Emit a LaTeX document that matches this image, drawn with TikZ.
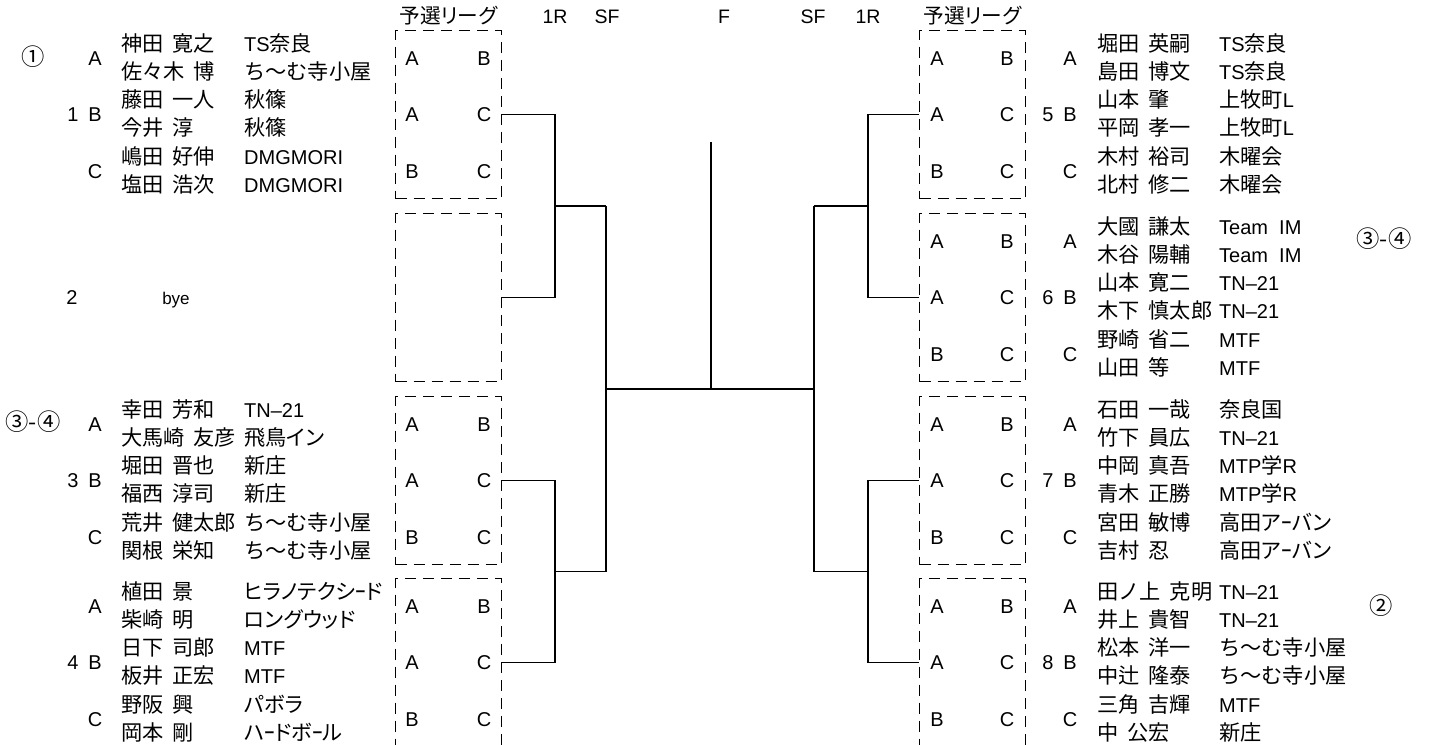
\documentclass[tikz,border=0pt]{standalone}
\usepackage{fontspec}
\setmainfont{Liberation Sans}
\newfontfamily\jp[Scale=1.06]{Noto Sans CJK JP}
\newfontfamily\jpp[Scale=1.06,RawFeature=+palt]{Noto Sans CJK JP}
\newcommand{\nm}[2]{{\jp #1}\hspace{0.45em}{\jp #2}}
\newcommand{\J}[1]{{\jp #1}}
\newcommand{\K}[1]{{\jpp #1}}
\newcommand{\pL}[4]{\node[lt] (#1n) at (121,#2) {#3}; \node[lt] (#1c) at (244,#2) {#4};}
\newcommand{\pR}[4]{\node[lt] (#1n) at (1097,#2) {#3}; \node[lt] (#1c) at (1219,#2) {#4};}
\begin{document}
\begin{tikzpicture}[x=1pt,y=-1pt,
  txt/.style={font=\fontsize{20pt}{24pt}\selectfont, inner sep=0pt, text height=15pt, text depth=0.4pt},
  lt/.style={txt, anchor=west},
  ct/.style={txt, anchor=center},
  hd/.style={ct, font=\fontsize{19.5pt}{22pt}\selectfont},
  mk/.style={ct, font=\fontsize{22pt}{24pt}\selectfont},
  dbox/.style={draw, dash pattern=on 11pt off 7pt, line width=1.7pt, minimum width=106pt, minimum height=168pt, inner sep=0pt},
  conn/.style={line width=1.7pt}]
\useasboundingbox (0,0) rectangle (1429,744);

% headers
\node[hd] (hL) at (448.5,16) {\K{予選リーグ}};
\node[hd] (h1L) at (555,16) {1R};
\node[hd] (hSL) at (607,16) {SF};
\node[hd] (hF) at (724,16) {F};
\node[hd] (hSR) at (813,16) {SF};
\node[hd] (h1R) at (868,16) {1R};
\node[hd] (hR) at (972.5,16) {\K{予選リーグ}};

% annotations
\node[mk] (m1) at (33,58) {\J{①}};
\node[mk] (m34L) at (33,423) {\J{③-④}};
\node[mk] (m34R) at (1384,240) {\J{③-④}};
\node[mk] (m2) at (1381,607) {\J{②}};

% ---------- boxes ----------
\foreach \i/\yc in {0/114.5,1/297.5,2/480.5,3/662.5}{
  \node[dbox] (bx\i) at (448.5,\yc) {};
}
\foreach \i/\yc in {4/114.5,5/297.5,6/480.5,7/662.5}{
  \node[dbox] (bx\i) at (972.5,\yc) {};
}
% box letters
\foreach \i/\yo in {0/44,2/410,3/592}{
  \node[ct] (ba\i a) at (412,\yo+14.1) {A};
  \node[ct] (ba\i b) at (484,\yo+14.1) {B};
  \node[ct] (ba\i c) at (412,\yo+70.5) {A};
  \node[ct] (ba\i d) at (484,\yo+70.5) {C};
  \node[ct] (ba\i e) at (412,\yo+126.9) {B};
  \node[ct] (ba\i f) at (484,\yo+126.9) {C};
}
\foreach \i/\yo in {4/44,5/227,6/410,7/592}{
  \node[ct] (ba\i a) at (937,\yo+14.1) {A};
  \node[ct] (ba\i b) at (1007,\yo+14.1) {B};
  \node[ct] (ba\i c) at (937,\yo+70.5) {A};
  \node[ct] (ba\i d) at (1007,\yo+70.5) {C};
  \node[ct] (ba\i e) at (937,\yo+126.9) {B};
  \node[ct] (ba\i f) at (1007,\yo+126.9) {C};
}

% group labels left
\foreach \i/\yo/\n in {0/44/1,2/410/3,3/592/4}{
  \node[ct] (gl\i a) at (95,\yo+14.1) {A};
  \node[ct] (gl\i n) at (73,\yo+70.5) {\n};
  \node[ct] (gl\i b) at (95,\yo+70.5) {B};
  \node[ct] (gl\i c) at (95,\yo+126.9) {C};
}
\node[ct] (gl1n) at (72,297.5) {2};
\node[ct, font=\fontsize{17pt}{20pt}\selectfont] (bye) at (176,297.5) {bye};
% group labels right
\foreach \i/\yo/\n in {4/44/5,5/227/6,6/410/7,7/592/8}{
  \node[ct] (gl\i a) at (1070,\yo+14.1) {A};
  \node[ct] (gl\i n) at (1048,\yo+70.5) {\n};
  \node[ct] (gl\i b) at (1070,\yo+70.5) {B};
  \node[ct] (gl\i c) at (1070,\yo+126.9) {C};
}

% ---------- players left ----------
\pL{p01}{44}{\nm{神田}{寛之}}{TS\J{奈良}}
\pL{p02}{72.2}{\nm{佐々木}{博}}{\J{ち〜む寺小屋}}
\pL{p03}{100.4}{\nm{藤田}{一人}}{\J{秋篠}}
\pL{p04}{128.6}{\nm{今井}{淳}}{\J{秋篠}}
\pL{p05}{156.8}{\nm{嶋田}{好伸}}{DMGMORI}
\pL{p06}{185}{\nm{塩田}{浩次}}{DMGMORI}

\pL{p31}{410}{\nm{幸田}{芳和}}{TN–21}
\pL{p32}{438.2}{\nm{大馬崎}{友彦}}{\K{飛鳥イン}}
\pL{p33}{466.4}{\nm{堀田}{晋也}}{\J{新庄}}
\pL{p34}{494.6}{\nm{福西}{淳司}}{\J{新庄}}
\pL{p35}{522.8}{\nm{荒井}{健太郎}}{\J{ち〜む寺小屋}}
\pL{p36}{551}{\nm{関根}{栄知}}{\J{ち〜む寺小屋}}

\pL{p41}{592}{\nm{植田}{景}}{\K{ヒラノテクシｰド}}
\pL{p42}{620.2}{\nm{柴崎}{明}}{\K{ロングウッド}}
\pL{p43}{648.4}{\nm{日下}{司郎}}{MTF}
\pL{p44}{676.6}{\nm{板井}{正宏}}{MTF}
\pL{p45}{704.8}{\nm{野阪}{興}}{\K{パボラ}}
\pL{p46}{733}{\nm{岡本}{剛}}{\K{ハｰドボｰル}}

% ---------- players right ----------
\pR{p51}{44}{\nm{堀田}{英嗣}}{TS\J{奈良}}
\pR{p52}{72.2}{\nm{島田}{博文}}{TS\J{奈良}}
\pR{p53}{100.4}{\nm{山本}{肇}}{\J{上牧町}L}
\pR{p54}{128.6}{\nm{平岡}{孝一}}{\J{上牧町}L}
\pR{p55}{156.8}{\nm{木村}{裕司}}{\J{木曜会}}
\pR{p56}{185}{\nm{北村}{修二}}{\J{木曜会}}

\pR{p61}{227}{\nm{大國}{謙太}}{Team\ \ IM}
\pR{p62}{255.2}{\nm{木谷}{陽輔}}{Team\ \ IM}
\pR{p63}{283.4}{\nm{山本}{寛二}}{TN–21}
\pR{p64}{311.6}{\nm{木下}{慎太郎}}{TN–21}
\pR{p65}{339.8}{\nm{野崎}{省二}}{MTF}
\pR{p66}{368}{\nm{山田}{等}}{MTF}

\pR{p71}{410}{\nm{石田}{一哉}}{\J{奈良国}}
\pR{p72}{438.2}{\nm{竹下}{員広}}{TN–21}
\pR{p73}{466.4}{\nm{中岡}{真吾}}{MTP\J{学}R}
\pR{p74}{494.6}{\nm{青木}{正勝}}{MTP\J{学}R}
\pR{p75}{522.8}{\nm{宮田}{敏博}}{\K{高田アｰバン}}
\pR{p76}{551}{\nm{吉村}{忍}}{\K{高田アｰバン}}

\pR{p81}{592}{\nm{田ノ上}{克明}}{TN–21}
\pR{p82}{620.2}{\nm{井上}{貴智}}{TN–21}
\pR{p83}{648.4}{\nm{松本}{洋一}}{\J{ち〜む寺小屋}}
\pR{p84}{676.6}{\nm{中辻}{隆泰}}{\J{ち〜む寺小屋}}
\pR{p85}{704.8}{\nm{三角}{吉輝}}{MTF}
\pR{p86}{733}{\nm{中}{公宏}}{\J{新庄}}

% ---------- bracket ----------
\coordinate (q01) at (555,206);
\coordinate (q23) at (555,571.5);
\coordinate (s01) at (606,206);
\coordinate (s23) at (606,571.5);
\coordinate (fL) at (606,388.75);
\coordinate (fR) at (814,388.75);
\coordinate (fM) at (711,388.75);
\coordinate (fT) at (711,142);
\coordinate (q45) at (868,206);
\coordinate (q67) at (868,571.5);
\coordinate (s45) at (814,206);
\coordinate (s67) at (814,571.5);

\draw[conn] (bx0.east) -| (q01) |- (bx1.east);
\draw[conn] (bx2.east) -| (q23) |- (bx3.east);
\draw[conn] (q01) -- (s01);
\draw[conn] (q23) -- (s23);
\draw[conn] (s01) -- (s23);
\draw[conn] (bx4.west) -| (q45) |- (bx5.west);
\draw[conn] (bx6.west) -| (q67) |- (bx7.west);
\draw[conn] (q45) -- (s45);
\draw[conn] (q67) -- (s67);
\draw[conn] (s45) -- (s67);
\draw[conn] (fL) -- (fR);
\draw[conn] (fT) -- (fM);
\end{tikzpicture}
\end{document}
